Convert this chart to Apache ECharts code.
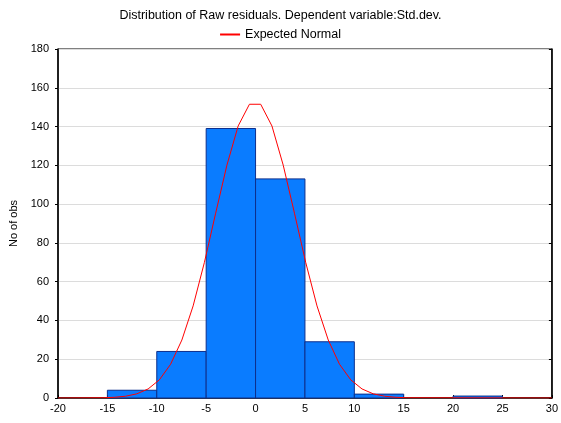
<!DOCTYPE html>
<html>
<head>
<meta charset="utf-8">
<script src="https://cdn.jsdelivr.net/npm/echarts@6/dist/echarts.min.js"></script>
<style>
  html, body { margin: 0; padding: 0; background: #fff; }
  #chart { width: 561px; height: 423px; }
</style>
</head>
<body>
<div id="chart"></div>
<script>
// Histogram bins of raw residuals (lower edge, upper edge) and counts
const binStarts = [-15, -10, -5, 0, 5, 10, 15, 20];
const binEnds   = [-10, -5, 0, 5, 10, 15, 20, 25];
const binCounts = [4, 24, 139, 113, 29, 2, 0, 1];

// Expected normal curve: x positions and expected counts
const normalX = [-20, -15.44, -14.30, -13.16, -12.02, -10.88, -9.74, -8.60, -7.46, -6.32, -5.18, -4.04, -2.90, -1.76, -0.62,
                 0.52, 1.66, 2.80, 3.94, 5.08, 6.22, 7.36, 8.50, 9.64, 10.78, 11.92, 13.06, 14.20, 15.34, 30];
const normalY = [0, 0.13, 0.36, 0.92, 2.15, 4.66, 9.35, 17.4, 29.9, 47.5, 69.9, 95.3, 120.1, 140.3, 151.5,
                 151.5, 140.3, 120.1, 95.3, 69.9, 47.5, 29.9, 17.4, 9.35, 4.66, 2.15, 0.92, 0.36, 0.13, 0];

// Axis tick labels
const xTicks = [-20, -15, -10, -5, 0, 5, 10, 15, 20, 25, 30];
const yTicks = [0, 20, 40, 60, 80, 100, 120, 140, 160, 180];

const chart = echarts.init(document.getElementById('chart'), null, { renderer: 'canvas' });

const histData = binCounts.map((c, i) => [binStarts[i], binEnds[i], c]);
const curveData = normalX.map((x, i) => [x, normalY[i]]);

const font = 'Liberation Sans, Arial, sans-serif';

chart.setOption({
  animation: false,
  backgroundColor: '#fff',
  title: {
    text: 'Distribution of Raw residuals. Dependent variable:Std.dev.',
    left: 'center',
    top: 4,
    textStyle: { fontFamily: font, fontSize: 12.5, fontWeight: 'normal', color: '#000' }
  },
  legend: {
    top: 23,
    left: 'center',
    itemWidth: 20,
    itemHeight: 2,
    itemGap: 6,
    icon: 'rect',
    textStyle: { fontFamily: font, fontSize: 12.5, color: '#000' },
    data: [{ name: 'Expected Normal', itemStyle: { color: '#ff0000' } }]
  },
  grid: {
    left: 57, right: 6, top: 49, bottom: 25,
    show: true, borderColor: '#000', borderWidth: 1, backgroundColor: 'transparent'
  },
  xAxis: {
    type: 'value',
    min: xTicks[0], max: xTicks[xTicks.length - 1], interval: 5,
    axisLine: { show: true, onZero: false, lineStyle: { color: '#000', width: 1.5 } },
    axisTick: { show: true, inside: true, length: 3, lineStyle: { color: '#000' } },
    axisLabel: { fontFamily: font, fontSize: 11, color: '#000', margin: 5 },
    splitLine: { show: false }
  },
  yAxis: [{
    type: 'value',
    min: yTicks[0], max: yTicks[yTicks.length - 1], interval: 20,
    name: 'No of obs',
    nameLocation: 'middle',
    nameGap: 39,
    nameTextStyle: { fontFamily: font, fontSize: 11, color: '#000' },
    axisLine: { show: true, onZero: false, lineStyle: { color: '#000', width: 1.5 } },
    axisTick: { show: true, length: 3, lineStyle: { color: '#000' } },
    axisLabel: { fontFamily: font, fontSize: 11, color: '#000', margin: 9 },
    splitLine: { show: true, lineStyle: { color: '#dcdcdc', width: 1 } }
  }, {
    type: 'value',
    position: 'right',
    min: yTicks[0], max: yTicks[yTicks.length - 1], interval: 20,
    axisLine: { show: true, onZero: false, lineStyle: { color: '#000', width: 1.5 } },
    axisTick: { show: true, inside: true, length: 3, lineStyle: { color: '#000' } },
    axisLabel: { show: false },
    splitLine: { show: false }
  }],
  series: [{
    type: 'custom',
    name: 'Histogram',
    data: histData,
    encode: { x: [0, 1], y: 2 },
    renderItem: function (params, api) {
      const c = api.value(2);
      if (c <= 0) return null;
      const p0 = api.coord([api.value(0), c]);
      const p1 = api.coord([api.value(1), 0]);
      return {
        type: 'rect',
        shape: { x: p0[0], y: p0[1], width: p1[0] - p0[0], height: p1[1] - p0[1] },
        style: { fill: '#0a7cff', stroke: '#0d2f8c', lineWidth: 1 }
      };
    },
    z: 2
  }, {
    type: 'line',
    name: 'Expected Normal',
    data: curveData,
    showSymbol: false,
    symbol: 'none',
    smooth: false,
    lineStyle: { color: '#ff0000', width: 1 },
    itemStyle: { color: '#ff0000' },
    z: 3
  }]
});
</script>
</body>
</html>
